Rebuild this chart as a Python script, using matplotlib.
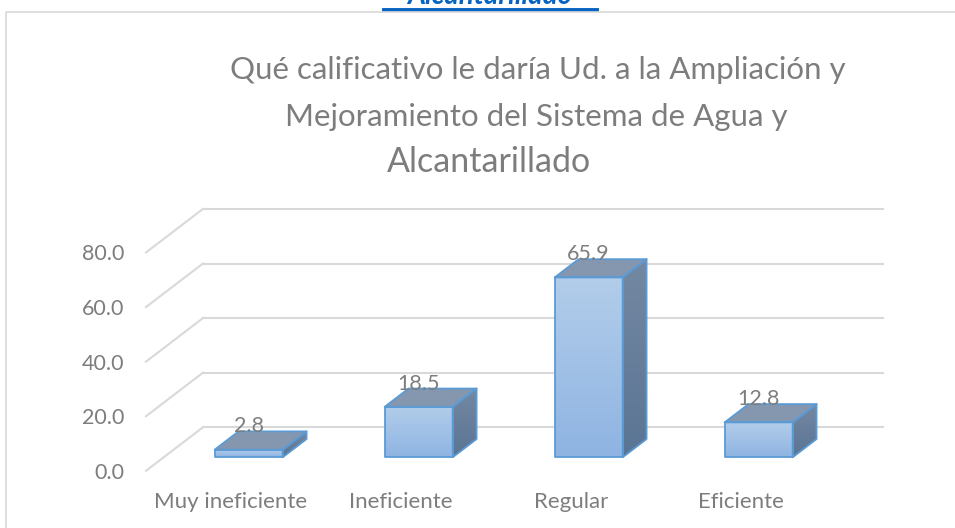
import numpy as np
import matplotlib
matplotlib.use('Agg')
import matplotlib.pyplot as plt
from matplotlib.patches import Polygon
from matplotlib.colors import LinearSegmentedColormap
from matplotlib.lines import Line2D

# Chart data
categories = ['Muy ineficiente', 'Ineficiente', 'Regular', 'Eficiente']
values = [2.8, 18.5, 65.9, 12.8]
yticks = [0, 20, 40, 60, 80]
title_lines = ['Qué calificativo le daría Ud. a la Ampliación y',
               'Mejoramiento del Sistema de Agua y',
               'Alcantarillado']
heading = 'Alcantarillado'

plt.rcParams['font.family'] = ['Lato', 'DejaVu Sans']
text_col = '#7d7d7d'
grid_col = '#d9d9d9'

# oblique projection: depth d goes from 0 (front) to 1 (back wall)
DX = 0.335
DY = 15.95
d_front, d_back = 0.31, 0.73
bar_w = 0.4


def proj(x, v, d):
    return (x + d * DX, v + d * DY)


fig = plt.figure(figsize=(9.55, 5.28), dpi=100)
ax = fig.add_axes([0, 0, 1, 1])
ax.axis('off')

# gridlines on back wall and left side wall
x_left, x_right = -0.5, len(categories) - 0.5
for t in yticks:
    p0, p1 = proj(x_left, t, 1), proj(x_right, t, 1)
    ax.plot([p0[0], p1[0]], [p0[1], p1[1]], color=grid_col, lw=1.5, zorder=1)
    q0 = proj(x_left, t, 0)
    ax.plot([q0[0], p0[0]], [q0[1], p0[1]], color=grid_col, lw=1.5, zorder=1)
    ax.text(q0[0] - 0.13, q0[1] - 2.9, f'{t:.1f}', ha='right', va='baseline',
            fontsize=15.5, color=text_col)

front_cmap = LinearSegmentedColormap.from_list('front', ['#b2cdea', '#8fb4e2'])
side_cmap = LinearSegmentedColormap.from_list('side', ['#7488a2', '#5a7594'])
grad = np.linspace(0, 1, 100).reshape(-1, 1)
edge = '#5b9bd5'

for i, v in enumerate(values):
    x0, x1 = i - bar_w / 2, i + bar_w / 2
    front = [proj(x0, 0, d_front), proj(x1, 0, d_front),
             proj(x1, v, d_front), proj(x0, v, d_front)]
    top = [proj(x0, v, d_front), proj(x1, v, d_front),
           proj(x1, v, d_back), proj(x0, v, d_back)]
    side = [proj(x1, 0, d_front), proj(x1, 0, d_back),
            proj(x1, v, d_back), proj(x1, v, d_front)]

    for pts, cmap in [(front, front_cmap), (side, side_cmap)]:
        poly = Polygon(pts, closed=True, facecolor='none', edgecolor='none')
        ax.add_patch(poly)
        xs = [p[0] for p in pts]
        ys = [p[1] for p in pts]
        im = ax.imshow(grad, extent=[min(xs), max(xs), min(ys), max(ys)],
                       cmap=cmap, aspect='auto', origin='upper', zorder=2,
                       interpolation='bilinear')
        im.set_clip_path(poly)
    ax.add_patch(Polygon(top, closed=True, facecolor='#8597af', edgecolor='none', zorder=2))
    for pts in (front, top, side):
        ax.add_patch(Polygon(pts, closed=True, facecolor='none', edgecolor=edge,
                             lw=1.3, joinstyle='round', zorder=3))

    # value label sits on the back edge of the bar top
    lx, ly = proj(i, v, d_front)[0], v + d_back * DY - 0.4
    ax.text(lx, ly, f'{v:.1f}', ha='center', va='baseline', fontsize=15.5,
            color=text_col, zorder=4)

for i, c in enumerate(categories):
    ax.text(i, -13.7, c, ha='center', va='baseline', fontsize=16, color=text_col)

ax.set_xlim(-231 / 170, 724 / 170)
ax.set_ylim(-20.95, 172.5)

# title, one text per line
title_x = [538, 536, 489]
title_base = [79, 126, 172]
title_size = [22.5, 22.5, 24.5]
for line, tx, ty, fs in zip(title_lines, title_x, title_base, title_size):
    fig.text(tx / 955, 1 - ty / 528, line, ha='center', va='baseline',
             fontsize=fs, color=text_col)

# clipped heading above the chart box
fig.text(490 / 955, 1 - 4 / 528, heading, ha='center', va='baseline',
         fontsize=20, fontweight='bold', fontstyle='italic', color='#0563c1')
fig.add_artist(Line2D([384 / 955, 597 / 955], [1 - 9.5 / 528, 1 - 9.5 / 528],
                      color='#0563c1', lw=2.8, transform=fig.transFigure))

# chart border
fig.add_artist(Line2D([5.5 / 955, 5.5 / 955, 1], [0, 1 - 12 / 528, 1 - 12 / 528],
                      color=grid_col, lw=1.2, transform=fig.transFigure))

fig.savefig('out.png', dpi=100)
